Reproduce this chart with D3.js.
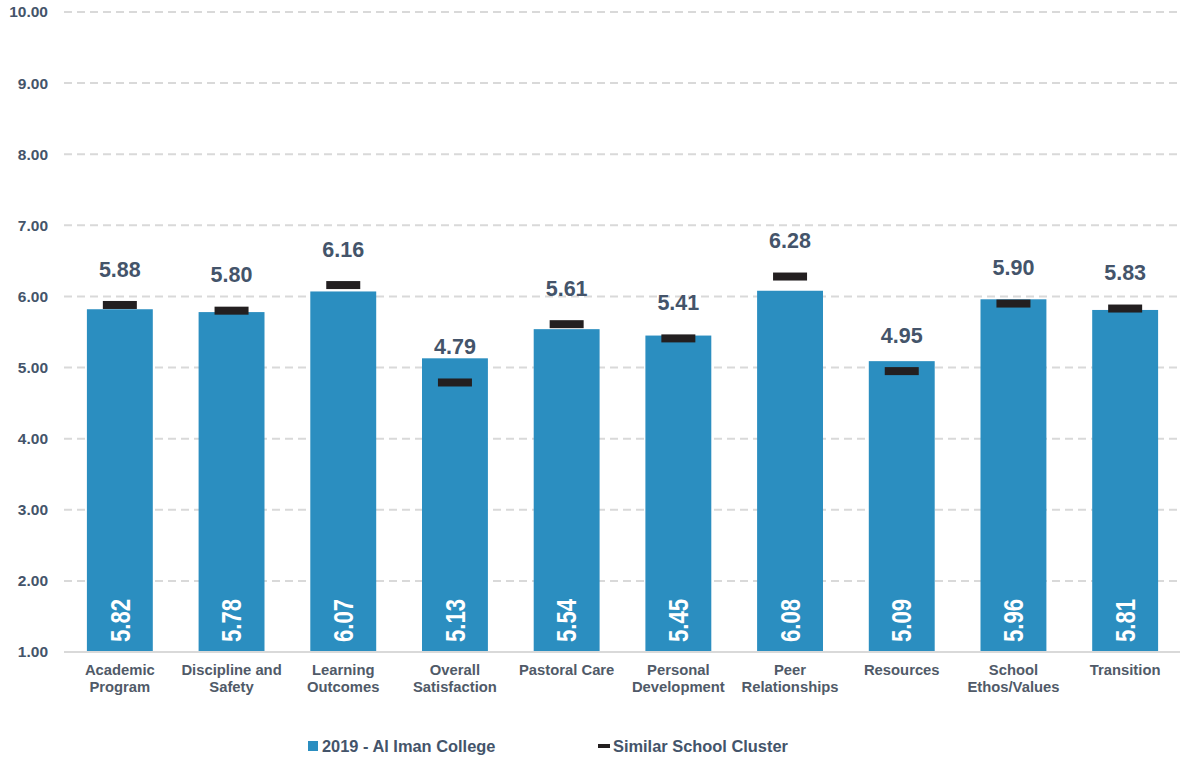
<!DOCTYPE html>
<html>
<head>
<meta charset="utf-8">
<script src="https://cdn.jsdelivr.net/npm/d3@7"></script>
<style>
  html, body { margin: 0; padding: 0; background: #ffffff; }
  svg { display: block; }
</style>
</head>
<body>
<svg id="chart" width="1180" height="758"></svg>
<script>
// Survey areas (two-line labels split on "\n")
const categories = [
  "Academic\nProgram", "Discipline and\nSafety", "Learning\nOutcomes",
  "Overall\nSatisfaction", "Pastoral Care", "Personal\nDevelopment",
  "Peer\nRelationships", "Resources", "School\nEthos/Values", "Transition"
];
// School mean scores (bars)
const schoolScores = [5.82, 5.78, 6.07, 5.13, 5.54, 5.45, 6.08, 5.09, 5.96, 5.81];
// Similar school cluster mean scores (markers)
const clusterScores = [5.88, 5.80, 6.16, 4.79, 5.61, 5.41, 6.28, 4.95, 5.90, 5.83];
const yTicks = [1, 2, 3, 4, 5, 6, 7, 8, 9, 10];
const seriesNames = ["2019 - Al Iman College", "Similar School Cluster"];

const barColor = "#2b8ec0";
const markerColor = "#231f20";
const labelColor = "#44546a";
const catColor = "#505a68";
const font = "'Liberation Sans', Arial, sans-serif";

const svg = d3.select("#chart");
const margin = { left: 64, right: 0, top: 12, bottom: 106 };
const W = 1180, H = 758;

const x = d3.scaleBand()
  .domain(categories)
  .range([margin.left, 1181])
  .paddingInner(0.41)
  .paddingOuter(0.205);

const y = d3.scaleLinear()
  .domain([1, 10])
  .range([H - margin.bottom, margin.top]);

// Gridlines
const grid = svg.append("g");
grid.selectAll("line")
  .data(yTicks.filter(t => t > 1))
  .join("line")
  .attr("x1", margin.left).attr("x2", 1180)
  .attr("y1", d => y(d)).attr("y2", d => y(d))
  .attr("stroke", "#d9d9d9")
  .attr("stroke-width", 2)
  .attr("stroke-dasharray", "8,5");

// Y axis tick labels
const yAxis = d3.axisLeft(y).tickValues(yTicks).tickFormat(d3.format(".2f")).tickSize(0).tickPadding(16);
const yG = svg.append("g").attr("transform", `translate(${margin.left},0)`).call(yAxis);
yG.select(".domain").remove();
yG.selectAll("text")
  .attr("font-family", font)
  .attr("font-weight", "bold")
  .attr("font-size", 15.5)
  .attr("fill", labelColor);

// Bars
svg.append("g").selectAll("rect")
  .data(categories)
  .join("rect")
  .attr("x", d => x(d))
  .attr("width", x.bandwidth())
  .attr("y", (d, i) => y(schoolScores[i]))
  .attr("height", (d, i) => y(1) - y(schoolScores[i]))
  .attr("fill", barColor);

// Base axis line
svg.append("line")
  .attr("x1", margin.left).attr("x2", 1180)
  .attr("y1", y(1)).attr("y2", y(1))
  .attr("stroke", "#d9d9d9").attr("stroke-width", 2);

// Cluster markers
const markerW = 34, markerH = 8;
svg.append("g").selectAll("rect")
  .data(categories)
  .join("rect")
  .attr("x", d => x(d) + x.bandwidth() / 2 - markerW / 2)
  .attr("y", (d, i) => y(clusterScores[i]) - markerH / 2)
  .attr("width", markerW)
  .attr("height", markerH)
  .attr("fill", markerColor);

// Cluster value labels above markers
svg.append("g").selectAll("text")
  .data(categories)
  .join("text")
  .attr("x", d => x(d) + x.bandwidth() / 2)
  .attr("y", (d, i) => y(clusterScores[i]) - 36)
  .attr("dy", "0.35em")
  .attr("text-anchor", "middle")
  .attr("font-family", font)
  .attr("font-weight", "bold")
  .attr("font-size", 21.5)
  .attr("fill", labelColor)
  .text((d, i) => d3.format(".2f")(clusterScores[i]));

// School values inside bars, rotated and condensed
svg.append("g").selectAll("text")
  .data(categories)
  .join("text")
  .attr("transform", d => `translate(${x(d) + x.bandwidth() / 2},${y(1) - 10}) rotate(-90) scale(0.82,1)`)
  .attr("dy", "0.36em")
  .attr("text-anchor", "start")
  .attr("font-family", font)
  .attr("font-weight", "bold")
  .attr("font-size", 27)
  .attr("fill", "#ffffff")
  .text((d, i) => d3.format(".2f")(schoolScores[i]));

// Category labels
const catG = svg.append("g");
categories.forEach(c => {
  const t = catG.append("text")
    .attr("x", x(c) + x.bandwidth() / 2)
    .attr("y", y(1) + 23)
    .attr("text-anchor", "middle")
    .attr("font-family", font)
    .attr("font-weight", "bold")
    .attr("font-size", 14.8)
    .attr("fill", catColor);
  c.split("\n").forEach((line, k) => {
    t.append("tspan")
      .attr("x", x(c) + x.bandwidth() / 2)
      .attr("dy", k === 0 ? 0 : 17)
      .text(line);
  });
});

// Legend
const legend = svg.append("g");
legend.append("rect")
  .attr("x", 308).attr("y", 741).attr("width", 10).attr("height", 10)
  .attr("fill", barColor);
legend.append("text")
  .attr("x", 322).attr("y", 752)
  .attr("font-family", font).attr("font-weight", "bold").attr("font-size", 16.4)
  .attr("fill", labelColor)
  .text(seriesNames[0]);
legend.append("rect")
  .attr("x", 598).attr("y", 744).attr("width", 12).attr("height", 4)
  .attr("fill", markerColor);
legend.append("text")
  .attr("x", 613).attr("y", 752)
  .attr("font-family", font).attr("font-weight", "bold").attr("font-size", 16.4)
  .attr("fill", labelColor)
  .text(seriesNames[1]);
</script>
</body>
</html>
